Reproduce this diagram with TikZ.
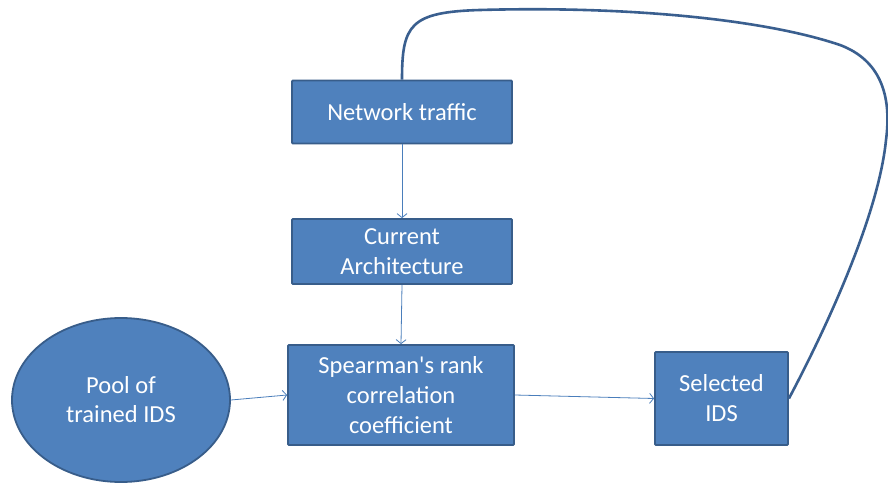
\documentclass[tikz,border=0pt]{standalone}
\usepackage{fontspec}
\setmainfont{Carlito}[Ligatures=TeXOff]
\usetikzlibrary{arrows.meta,shapes.geometric}
\definecolor{boxfill}{HTML}{4F81BD}
\definecolor{boxline}{HTML}{385D8A}
\definecolor{arrowc}{HTML}{4A7EBB}
\definecolor{loopc}{HTML}{3A5F8F}
\tikzset{
  blockbox/.style={rectangle, draw=boxline, fill=boxfill, line width=1.8pt,
    text=white, align=center, inner sep=0pt, rounded corners=1pt,
    font=\fontsize{24.5}{30}\selectfont},
  poolshape/.style={ellipse, draw=boxline, fill=boxfill, line width=1.8pt,
    text=white, align=center, inner sep=0pt,
    font=\fontsize{24.5}{29}\selectfont},
  flow/.style={draw=arrowc, line width=0.8pt, -{Straight Barb[length=4pt,width=10pt]}},
  loopline/.style={draw=loopc, line width=2.6pt}
}
\begin{document}
\begin{tikzpicture}[x=1pt,y=-1pt]
\useasboundingbox (0,0) rectangle (888,484);
\fill[white] (0,0) rectangle (888,484);
\node[blockbox, minimum width=220pt, minimum height=63pt] (nt) at (402,112) {Network traffic};
\node[blockbox, minimum width=220pt, minimum height=65pt] (ca) at (402,251.5) {Current\\Architecture};
\node[blockbox, minimum width=226pt, minimum height=100pt] (sp) at (401,395) {Spearman's rank\\correlation\\coefficient};
\node[blockbox, minimum width=133pt, minimum height=93pt] (sel) at (721.5,398.5) {Selected\\IDS};
\node[poolshape, minimum width=218pt, minimum height=164pt] (pool) at (121,400) {Pool of\\trained IDS};
\draw[flow] (nt.south) -- (ca.north);
\draw[flow] (ca.south) -- (sp.north);
\draw[flow] (pool.east) -- (sp.west);
\draw[flow] (sp.east) -- (sel.west);
\begin{scope}
\clip (0,0) rectangle (888,484);
\draw[loopline] (nt.north) .. controls (402,25) and (410,12) .. (480,10)
  .. controls (620,6) and (760,18) .. (840,45)
  .. controls (880,60) and (892,95) .. (886,140)
  .. controls (878,220) and (820,340) .. (sel.east);
\end{scope}
\end{tikzpicture}
\end{document}
